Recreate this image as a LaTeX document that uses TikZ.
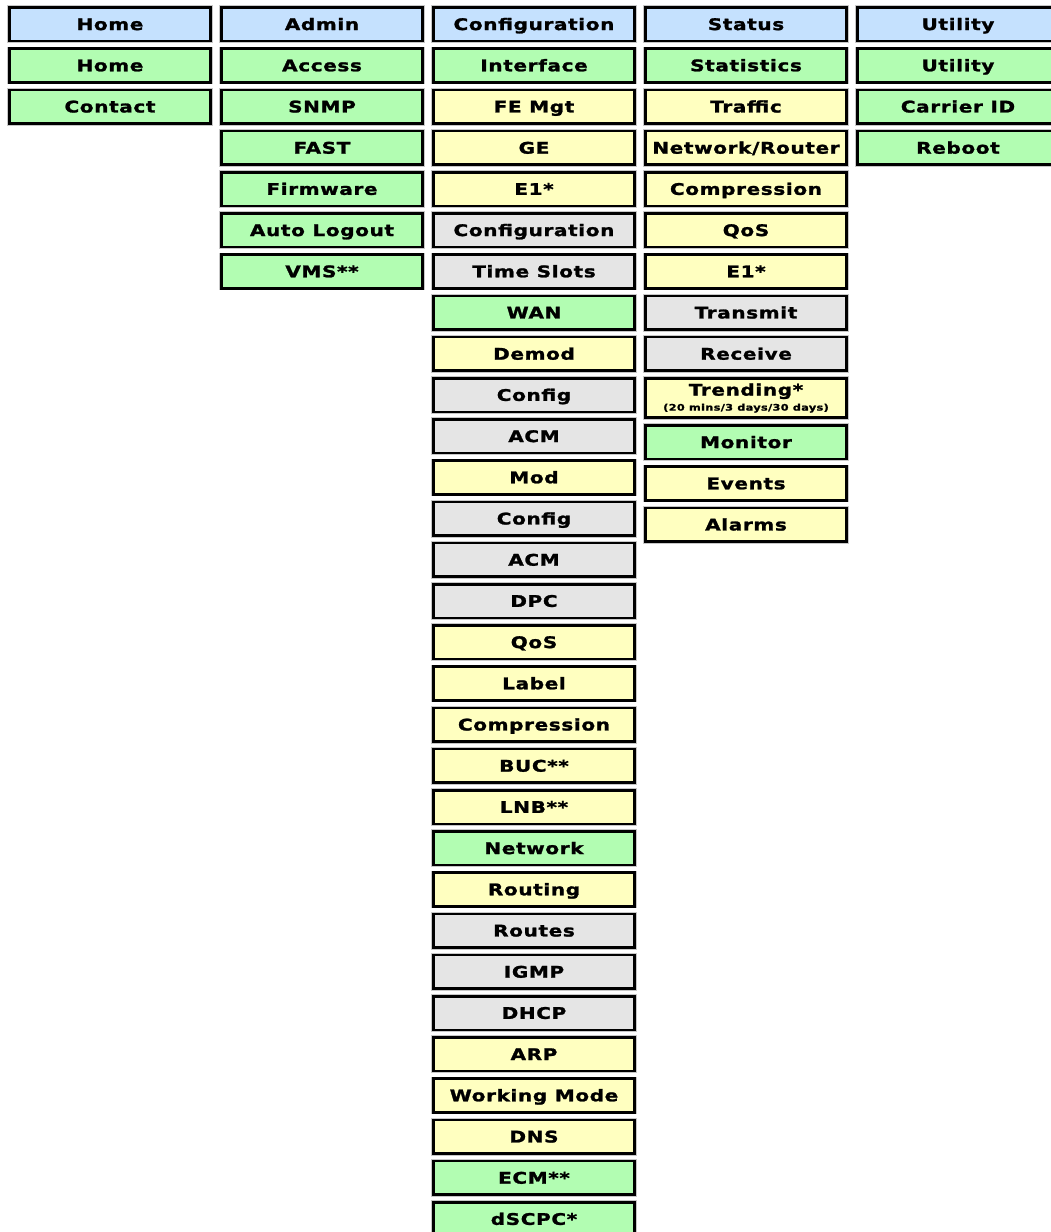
\documentclass[tikz,border=0pt]{standalone}
\usepackage{fontspec}
\newfontfamily\menufont{DejaVu Sans Bold}[FakeStretch=1.25, LetterSpace=4, FakeBold=1.5]
\usepackage{tikz}
\usetikzlibrary{positioning}

\definecolor{menublue}{HTML}{C5E1FE}
\definecolor{pagegreen}{HTML}{B2FDB2}
\definecolor{tabyellow}{HTML}{FFFFC0}
\definecolor{subgrey}{HTML}{E5E5E5}

\begin{document}
\begin{tikzpicture}[
  x=1pt, y=-1pt,
  font=\menufont\fontsize{16}{18}\selectfont,
  box/.style={draw, line width=2.6pt, minimum width=201pt, minimum height=33.5pt, inner sep=0pt, align=center,
    preaction={draw=black!22, line width=4.4pt}},
  cell/.style={box, text height=11.6pt, text depth=0pt},
  menu/.style={cell, fill=menublue},
  page/.style={cell, fill=pagegreen},
  tab/.style={cell, fill=tabyellow},
  subtab/.style={cell, fill=subgrey}
]
\useasboundingbox (0,0) rectangle (1051,1232);

% Home
\node[menu] (hm0) at (110, 24.25) {Home};
\node[page] (hm1) at (110, 65.45) {Home};
\node[page] (hm2) at (110, 106.65) {Contact};

% Admin
\node[menu] (ad0) at (322, 24.25) {Admin};
\node[page] (ad1) at (322, 65.45) {Access};
\node[page] (ad2) at (322, 106.65) {SNMP};
\node[page] (ad3) at (322, 147.85) {FAST};
\node[page] (ad4) at (322, 189.05) {Firmware};
\node[page] (ad5) at (322, 230.25) {Auto Logout};
\node[page] (ad6) at (322, 271.45) {VMS**};

% Configuration
\node[menu]   (cf0) at (534, 24.25) {Configuration};
\node[page]   (cf1) at (534, 65.45) {Interface};
\node[tab]    (cf2) at (534, 106.65) {FE Mgt};
\node[tab]    (cf3) at (534, 147.85) {GE};
\node[tab]    (cf4) at (534, 189.05) {E1*};
\node[subtab] (cf5) at (534, 230.25) {Configuration};
\node[subtab] (cf6) at (534, 271.45) {Time Slots};
\node[page]   (cf7) at (534, 312.65) {WAN};
\node[tab]    (cf8) at (534, 353.85) {Demod};
\node[subtab] (cf9) at (534, 395.05) {Config};
\node[subtab] (cf10) at (534, 436.25) {ACM};
\node[tab]    (cf11) at (534, 477.45) {Mod};
\node[subtab] (cf12) at (534, 518.65) {Config};
\node[subtab] (cf13) at (534, 559.85) {ACM};
\node[subtab] (cf14) at (534, 601.05) {DPC};
\node[tab]    (cf15) at (534, 642.25) {QoS};
\node[tab]    (cf16) at (534, 683.45) {Label};
\node[tab]    (cf17) at (534, 724.65) {Compression};
\node[tab]    (cf18) at (534, 765.85) {BUC**};
\node[tab]    (cf19) at (534, 807.05) {LNB**};
\node[page]   (cf20) at (534, 848.25) {Network};
\node[tab]    (cf21) at (534, 889.45) {Routing};
\node[subtab] (cf22) at (534, 930.65) {Routes};
\node[subtab] (cf23) at (534, 971.85) {IGMP};
\node[subtab] (cf24) at (534, 1013.05) {DHCP};
\node[tab]    (cf25) at (534, 1054.25) {ARP};
\node[tab]    (cf26) at (534, 1095.45) {Working Mode};
\node[tab]    (cf27) at (534, 1136.65) {DNS};
\node[page]   (cf28) at (534, 1177.85) {ECM**};
\node[page]   (cf29) at (534, 1219.05) {dSCPC*};

% Status
\node[menu]   (st0) at (746, 24.25) {Status};
\node[page]   (st1) at (746, 65.45) {Statistics};
\node[tab]    (st2) at (746, 106.65) {Traffic};
\node[tab]    (st3) at (746, 147.85) {Network/Router};
\node[tab]    (st4) at (746, 189.05) {Compression};
\node[tab]    (st5) at (746, 230.25) {QoS};
\node[tab]    (st6) at (746, 271.45) {E1*};
\node[subtab] (st7) at (746, 312.65) {Transmit};
\node[subtab] (st8) at (746, 353.85) {Receive};
\node[box, fill=tabyellow, minimum height=39pt] (st9) at (746, 398)
  {Trending*\\[-3pt]{\fontsize{9}{10}\selectfont (20 mins/3 days/30 days)}};
\node[page]   (st10) at (746, 442.25) {Monitor};
\node[tab]    (st11) at (746, 483.45) {Events};
\node[tab]    (st12) at (746, 524.65) {Alarms};

% Utility
\node[menu] (ut0) at (958, 24.25) {Utility};
\node[page] (ut1) at (958, 65.45) {Utility};
\node[page] (ut2) at (958, 106.65) {Carrier ID};
\node[page] (ut3) at (958, 147.85) {Reboot};
\end{tikzpicture}
\end{document}
